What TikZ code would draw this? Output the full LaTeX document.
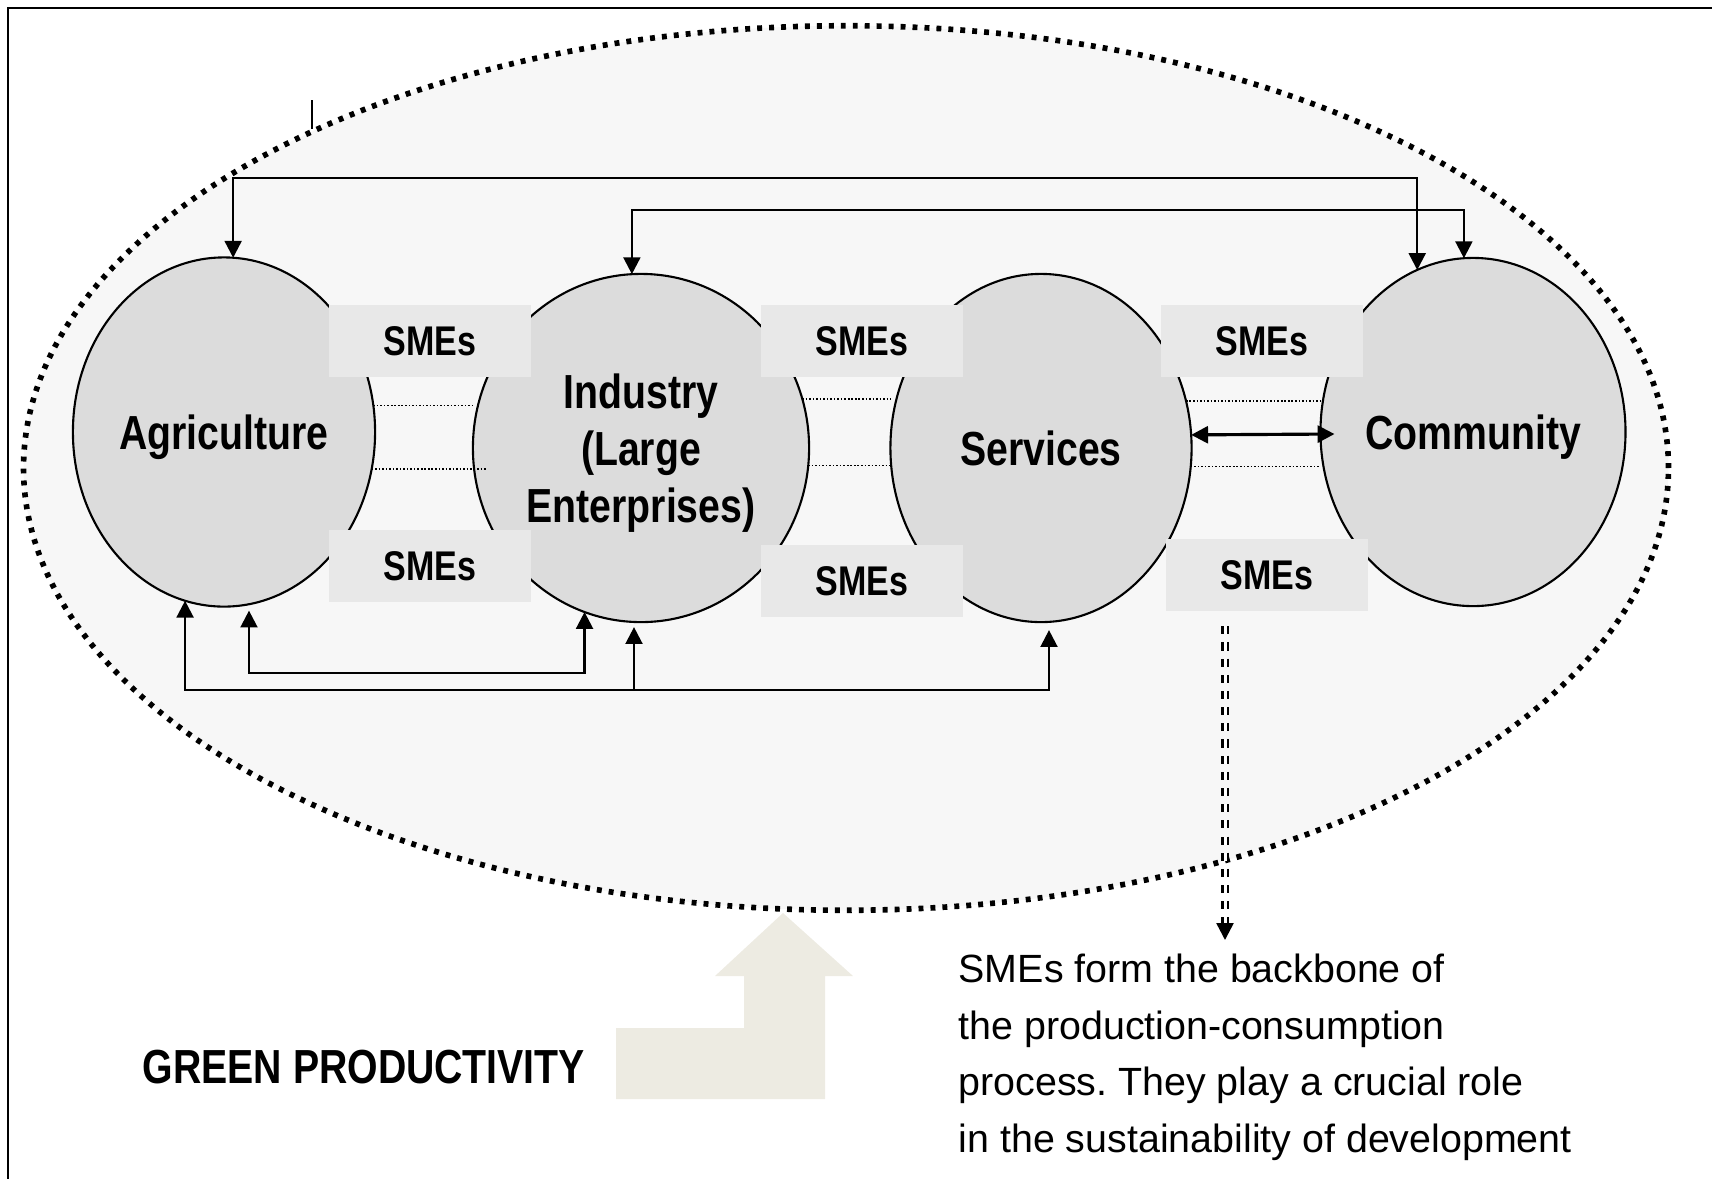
\documentclass[tikz,border=0pt]{standalone}
\usepackage{fontspec}
\setmainfont{Liberation Sans}
\newfontfamily\narrowfont{Liberation Sans}[FakeStretch=0.82]
\usetikzlibrary{arrows.meta,shapes.geometric,calc}
\frenchspacing

\definecolor{fieldgray}{HTML}{F7F7F7}
\definecolor{sectorgray}{HTML}{DCDCDC}
\definecolor{smegray}{HTML}{E8E8E8}
\definecolor{arrowbeige}{HTML}{EDEBE2}

\begin{document}
\begin{tikzpicture}[x=0.01cm, y=-0.01cm,
  >={Triangle[length=4.8pt, width=4.8pt]},
  sector/.style = {draw, ellipse, fill=sectorgray, line width=0.6pt, inner sep=0pt, outer sep=0pt, align=center, text depth=0pt, font=\narrowfont\bfseries\fontsize{13.6}{16.2}\selectfont},
  smes/.style = {fill=smegray, minimum width=2.02cm, minimum height=0.71cm, inner sep=0pt, text depth=0pt, font=\narrowfont\bfseries\fontsize{11.8}{14}\selectfont},
  flow/.style = {line width=0.7pt, <->},
  upflow/.style = {line width=0.7pt, ->},
  gap/.style = {line width=0.45pt, dash pattern=on 0.45pt off 0.55pt}]

\useasboundingbox (0,0) rectangle (1712,1178);
\draw[line width=0.6pt] (1720,8) -- (8,8) -- (8,1190);

\node[draw, ellipse, fill=fieldgray, line width=1.6pt, dash pattern=on 1.4pt off 2pt, minimum width=16.44cm, minimum height=8.84cm, inner sep=0pt] (field) at (846,468) {};
\draw[line width=0.5pt] (312,100) -- (312,129);

\node[sector, minimum width=3.02cm, minimum height=3.49cm] (agri) at (224,432) {Agriculture};
\node[sector, minimum width=3.36cm, minimum height=3.48cm] (ind) at (641,448) {Industry\\(Large\\Enterprises)};
\node[sector, minimum width=3.01cm, minimum height=3.48cm] (serv) at (1041,448) {Services};
\node[sector, minimum width=3.02cm, minimum height=3.48cm] (comm) at (1473,432) {Community};

\node[smes] (smesa) at (430,341) {SMEs};
\node[smes] (smesb) at (862,341) {SMEs};
\node[smes] (smesc) at (1262,341) {SMEs};
\node[smes] (smesd) at (430,566) {SMEs};
\node[smes] (smese) at (862,581) {SMEs};
\node[smes] (smesf) at (1267,575) {SMEs};

\draw[gap] (agri.10) -- (agri.10 -| ind.west);
\draw[gap] (agri.-14) -- ++(115,0);
\draw[gap] (ind.17) -- (ind.17 -| serv.west);
\draw[gap] (ind.-6) -- (ind.-6 -| serv.west);
\draw[gap] (serv.18) -- (serv.18 -| comm.west);
\draw[gap] (serv.-7) -- (serv.-7 -| comm.west);

% links over the top
\coordinate (linka) at (0,178);
\coordinate (linkb) at (0,210);
\draw[flow] (agri.87) -- (agri.87 |- linka) -| (comm.109);
\draw[flow] (ind.93) -- (ind.93 |- linkb) -| (comm.93);

% links underneath
\coordinate (linkc) at (0,690);
\coordinate (linkd) at (0,673);
\coordinate (servin) at ($(serv.south)+(8,8)$);
\coordinate (indin) at ($(ind.south)+(-7,5)$);
\coordinate (agriin) at ($(agri.south)+(25,4)$);
\draw[flow] (agri.257) -- (agri.257 |- linkc) -| (servin);
\draw[upflow] (indin |- linkc) -- (indin);
\draw[flow] (agriin) -- (agriin |- linkd) -| (ind.251);

\draw[flow, line width=0.9pt] (serv.5) -- ($(comm.west)+(14,2)$);

\node[anchor=north west, inner xsep=0pt, inner ysep=3.7pt, align=left, font=\fontsize{11.2}{16.16}\selectfont] (note) at (958,940) {SMEs form the backbone of\\the production-consumption\\process. They play a crucial role\\in the sustainability of development};
\coordinate (dashtop) at ($(smesf.south)+(-42,15)$);
\draw[line width=0.7pt, double distance=0.85pt, dash pattern=on 2.3pt off 2.3pt, ->] (dashtop) -- (dashtop |- note.north);

\fill[arrowbeige] (616,1099) -- (616,1028) -- (744,1028) -- (744,976) -- (715,976) -- (783,913) -- (853,976) -- (825,976) -- (825,1099) -- cycle;
\node[anchor=base west, inner sep=0pt, font=\narrowfont\bfseries\fontsize{13.6}{16.2}\selectfont] (gplabel) at (142,1083) {GREEN PRODUCTIVITY};

\end{tikzpicture}
\end{document}
